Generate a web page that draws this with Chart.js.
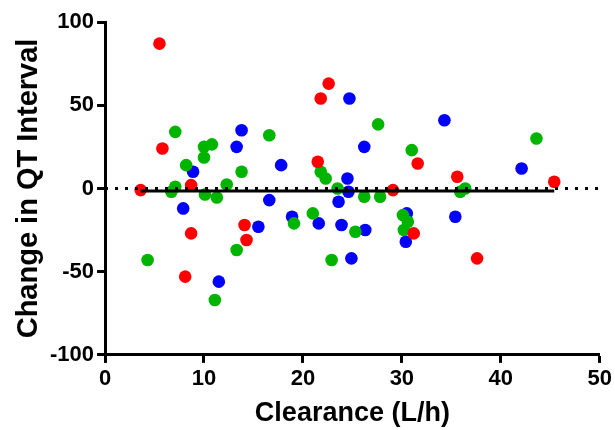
<!DOCTYPE html>
<html>
<head>
<meta charset="utf-8">
<script src="https://cdn.jsdelivr.net/npm/chart.js@4"></script>
<style>
  html, body { margin: 0; padding: 0; background: #fff; }
  #box { width: 615px; height: 430px; }
</style>
</head>
<body>
<div id="box"><canvas id="grafico"></canvas></div>
<script>
// valores (clearance L/h, variação QT)
const vermelhoX = [5.5, 5.8, 3.6, 8.7, 8.7, 8.1, 14.1, 14.3, 22.6, 21.8, 21.5, 31.6, 29.1, 31.2, 35.6, 45.4, 37.6];
const vermelhoY = [87, 24, -1, 2, -27, -53, -22, -31, 63, 54, 16, 15, -1, -27, 7, 4, -42];

const azulX = [13.8, 13.3, 17.8, 8.9, 24.7, 34.3, 26.2, 24.5, 24.6, 16.6, 7.9, 15.5, 11.5, 23.6, 18.9, 21.6, 23.9, 26.3, 30.5, 30.4, 24.9, 35.4, 42.1];
const azulY = [35, 25, 14, 10, 54, 41, 25, 6, -2, -7, -12, -23, -56, -8, -17, -21, -22, -25, -15, -32, -42, -17, 12];

const verdeX = [7.1, 10.0, 10.8, 10.0, 8.2, 13.8, 16.6, 7.1, 6.7, 12.3, 10.1, 11.3, 13.3, 4.3, 11.1, 27.6, 31.0, 21.8, 22.3, 23.5, 26.2, 27.8, 21.0, 19.1, 25.3, 22.9, 30.1, 30.6, 30.2, 43.6, 35.9, 36.4];
const verdeY = [34, 25, 26.5, 18.6, 14, 10, 32, 1, -2, 2.4, -3.6, -5.4, -37, -43, -67, 38.5, 23, 10, 6, 0, -5, -5, -15, -21, -26, -43, -16, -20, -25, 30, -2, 0];

// linha de regressão e linha de referência em zero
const regressaoX = [3.6, 45.4];
const regressaoY = [-1.5, -1.5];
const zeroX = [0, 50];
const zeroY = [0, 0];

const ticksX = [0, 10, 20, 30, 40, 50];
const ticksY = [-100, -50, 0, 50, 100];

function pontos(xs, ys) {
    return xs.map(function(x, i) { return { x: x, y: ys[i] }; });
}

const fonte = 'Liberation Sans, Arial, sans-serif';
const ctx = document.getElementById('grafico').getContext('2d');

const myChart = new Chart(ctx, {
    type: 'scatter',
    data: {
        datasets: [
            {
                label: 'Zero',
                type: 'line',
                data: pontos(zeroX, zeroY),
                borderColor: '#000',
                borderWidth: 3,
                borderDash: [3, 7],
                pointRadius: 0,
                order: 0
            },
            {
                label: 'Regressão',
                type: 'line',
                data: pontos(regressaoX, regressaoY),
                borderColor: '#000',
                borderWidth: 3,
                pointRadius: 0,
                order: 1
            },
            {
                label: 'Vermelho',
                data: pontos(vermelhoX, vermelhoY),
                backgroundColor: '#ff0000',
                borderWidth: 0,
                pointRadius: 6.3,
                order: 2
            },
            {
                label: 'Verde',
                data: pontos(verdeX, verdeY),
                backgroundColor: '#00b400',
                borderWidth: 0,
                pointRadius: 6.3,
                order: 3
            },
            {
                label: 'Azul',
                data: pontos(azulX, azulY),
                backgroundColor: '#0000ff',
                borderWidth: 0,
                pointRadius: 6.3,
                order: 4
            }
        ]
    },
    options: {
        responsive: true,
        maintainAspectRatio: false,
        animation: false,
        layout: { padding: { top: 22, right: 15, left: 14, bottom: 2 } },
        plugins: {
            legend: { display: false },
            tooltip: { enabled: false }
        },
        scales: {
            x: {
                type: 'linear',
                min: 0,
                max: 50,
                afterBuildTicks: function(axis) {
                    axis.ticks = ticksX.map(function(v) { return { value: v }; });
                },
                border: { color: '#000', width: 3 },
                grid: { drawOnChartArea: false, drawTicks: true, tickLength: 8, tickWidth: 3, color: '#000' },
                ticks: { color: '#000', padding: 3, font: { family: fonte, size: 22, weight: 'bold' } },
                title: {
                    display: true,
                    text: 'Clearance (L/h)',
                    color: '#000',
                    padding: { top: 3, bottom: 0 },
                    font: { family: fonte, size: 27, weight: 'bold', lineHeight: 1.1 }
                }
            },
            y: {
                type: 'linear',
                min: -100,
                max: 100,
                afterBuildTicks: function(axis) {
                    axis.ticks = ticksY.map(function(v) { return { value: v }; });
                },
                border: { color: '#000', width: 3 },
                grid: { drawOnChartArea: false, drawTicks: true, tickLength: 8, tickWidth: 3, color: '#000' },
                ticks: { color: '#000', padding: 3, font: { family: fonte, size: 22, weight: 'bold' } },
                title: {
                    display: true,
                    text: 'Change in QT Interval',
                    color: '#000',
                    padding: { top: 0, bottom: 4 },
                    font: { family: fonte, size: 29, weight: 'bold', lineHeight: 1.0 }
                }
            }
        }
    }
});
</script>
</body>
</html>
